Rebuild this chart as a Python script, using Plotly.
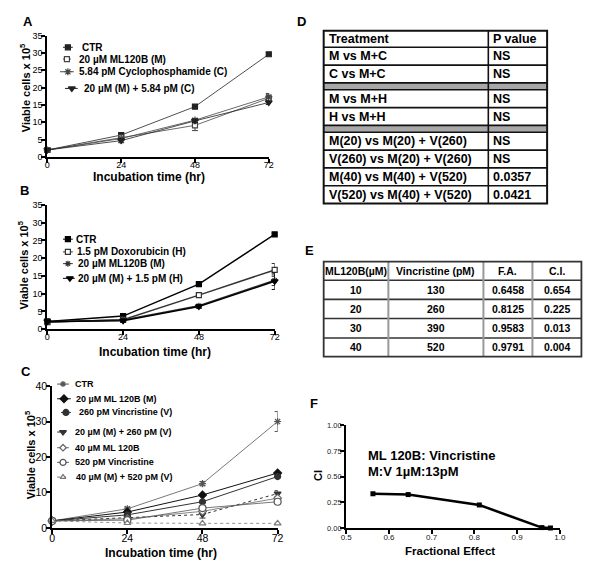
import plotly.graph_objects as go

FONT = "Liberation Sans, Arial, sans-serif"
W, H = 600, 572
OFF = 8  # page body margin: design in page pixels, shift into figure pixels

# ---------------- data ----------------
time = [0, 24, 48, 72]

# Panel A
A_names = ["CTR", "20 µM ML120B (M)", "5.84 pM Cyclophosphamide (C)", "20 µM (M) + 5.84 pM (C)"]
A_ctr = [2.0, 6.3, 14.5, 29.6]
A_m = [2.0, 5.6, 9.1, 16.9]
A_c = [2.0, 5.3, 10.6, 17.3]
A_mc = [2.0, 4.7, 10.4, 15.7]
A_ctr_err = [0.2, 0.4, 0.4, 0.4]
A_m_err = [0.2, 0.5, 1.5, 1.0]
A_c_err = [0.2, 0.4, 0.5, 1.0]
A_mc_err = [0.2, 0.6, 0.5, 0.6]

# Panel B
B_names = ["CTR", "1.5 pM Doxorubicin (H)", "20 µM ML120B (M)", "20 µM (M) + 1.5 pM (H)"]
B_ctr = [2.2, 3.7, 12.7, 26.7]
B_h = [2.0, 2.7, 9.6, 16.7]
B_m = [2.1, 2.6, 6.6, 13.8]
B_mh = [2.2, 2.4, 6.4, 13.5]
B_ctr_err = [0.2, 0.3, 0.4, 0.4]
B_h_err = [0.2, 0.4, 0.4, 1.8]
B_m_err = [0.2, 0.4, 0.4, 1.5]
B_mh_err = [0.2, 0.4, 0.5, 2.3]

# Panel C
C_names = ["CTR", "20 µM ML 120B (M)", "260 pM Vincristine (V)", "20 µM (M) + 260 pM (V)",
           "40 µM ML 120B", "520 pM Vincristine", "40 µM (M) + 520 pM (V)"]
C_ctr = [2.0, 5.4, 12.5, 30.0]
C_m = [2.0, 4.5, 9.3, 15.5]
C_v = [2.0, 3.7, 7.4, 14.5]
C_mv = [2.0, 3.0, 3.8, 9.7]
C_m40 = [2.0, 2.6, 4.7, 8.4]
C_v520 = [2.0, 2.2, 5.6, 7.4]
C_mv40 = [2.0, 1.4, 1.3, 1.3]
C_ctr_err = [0.2, 0.5, 0.6, 2.8]
C_mv_err = [0.2, 0.4, 1.0, 0.8]

# Panel D (table)
D_header = ["Treatment", "P value"]
D_treatment = ["M vs M+C", "C vs M+C", "", "M vs M+H", "H vs M+H", "",
               "M(20) vs M(20) + V(260)", "V(260) vs M(20) + V(260)",
               "M(40) vs M(40) + V(520)", "V(520) vs M(40) + V(520)"]
D_pvalue = ["NS", "NS", "", "NS", "NS", "", "NS", "NS", "0.0357", "0.0421"]

# Panel E (table)
E_header = ["ML120B(µM)", "Vincristine (pM)", "F.A.", "C.I."]
E_ml = ["10", "20", "30", "40"]
E_vin = ["130", "260", "390", "520"]
E_fa = ["0.6458", "0.8125", "0.9583", "0.9791"]
E_ci = ["0.654", "0.225", "0.013", "0.004"]

# Panel F
F_fa = [0.5625, 0.645, 0.8115, 0.958, 0.978]
F_ci = [0.333, 0.325, 0.224, 0.004, 0.0]

# ---------------- helpers ----------------
def xd(l, r):
    return [(l - OFF) / W, (r - OFF) / W]

def yd(top, bottom):
    return [1 - (bottom - OFF) / H, 1 - (top - OFF) / H]

fig = go.Figure()
anns = []
shapes = []

def axstyle(**kw):
    d = dict(showline=True, linewidth=2, linecolor="black", ticks="outside", ticklen=4,
             tickwidth=1.5, tickcolor="black", showgrid=False, zeroline=False,
             tickfont=dict(size=9, family=FONT, color="black"), fixedrange=True)
    d.update(kw)
    return d

def series(xa, ya, y, err, color, symbol, width=1, dash="solid", size=6, fill=True, lw=1.2):
    mk = dict(symbol=symbol, size=size, color=color if fill else "white",
              line=dict(color=color, width=lw))
    if symbol.startswith("asterisk"):
        mk = dict(symbol=symbol, size=size, color=color, line=dict(color=color, width=lw))
    kw = {}
    if err is not None:
        kw["error_y"] = dict(type="data", array=err, thickness=1, width=3, color=color)
    fig.add_trace(go.Scatter(
        x=time, y=y, mode="lines+markers", xaxis=xa, yaxis=ya, cliponaxis=False,
        line=dict(color=color, width=width, dash=dash), marker=mk, showlegend=False, **kw))

def text(x, y, s, size=9, xanchor="left", bold=True, angle=0, color="black"):
    anns.append(dict(x=x, y=y, xref="x5", yref="y5", text=s, showarrow=False,
                     xanchor=xanchor, yanchor="middle", textangle=angle,
                     font=dict(family=FONT, size=size, color=color,
                               weight="bold" if bold else "normal")))

def legend_item(x0, x1, xm, y, tx, label, color, symbol, fill=True, dash="solid", size=6, lw=1.2, fs=9):
    fig.add_trace(go.Scatter(x=[x0, x1], y=[y, y], mode="lines", xaxis="x5", yaxis="y5",
                             line=dict(color=color, width=1, dash=dash), showlegend=False,
                             hoverinfo="skip"))
    mk = dict(symbol=symbol, size=size, color=color if fill else "white",
              line=dict(color=color, width=lw))
    fig.add_trace(go.Scatter(x=[xm], y=[y], mode="markers", xaxis="x5", yaxis="y5",
                             marker=mk, showlegend=False, hoverinfo="skip"))
    text(tx, y, label, size=fs)

# ---------------- Panel A ----------------
series("x", "y", A_ctr, A_ctr_err, "#222", "square", width=0.8, size=5)
series("x", "y", A_m, A_m_err, "#444", "square", width=0.8, fill=False, size=5)
series("x", "y", A_c, A_c_err, "#444", "asterisk-open", width=0.8, size=6)
series("x", "y", A_mc, A_mc_err, "#222", "triangle-down", width=0.8, size=6)
legend_item(58, 68, 63, 42, 75, A_names[0], "#222", "square", size=5, fs=10)
legend_item(58, 66, 62, 54, 72, A_names[1], "#444", "square", fill=False, size=5, fs=10)
legend_item(55, 69, 63, 67, 72, A_names[2], "#444", "asterisk-open", size=6, fs=10)
legend_item(60, 73, 67, 84, 77, A_names[3], "#222", "triangle-down", fs=10)

# ---------------- Panel B ----------------
series("x2", "y2", B_ctr, B_ctr_err, "black", "square", width=1.5, size=5)
series("x2", "y2", B_h, B_h_err, "#333", "square", width=1.5, fill=False, size=5)
series("x2", "y2", B_m, B_m_err, "#333", "asterisk-open", width=1.5, size=5)
series("x2", "y2", B_mh, B_mh_err, "black", "triangle-down", width=1.5, size=6)
legend_item(58, 68, 63, 238, 69, B_names[0], "black", "square", size=5, fs=10)
legend_item(58, 68, 63, 251, 70, B_names[1], "#333", "square", fill=False, size=5, fs=10)
legend_item(58, 68, 63, 263, 71, B_names[2], "#333", "asterisk-open", size=5, fs=10)
legend_item(58, 70, 65, 278, 71, B_names[3], "black", "triangle-down", fs=10)

# ---------------- Panel C ----------------
series("x3", "y3", C_ctr, C_ctr_err, "#555", "asterisk-open", width=0.8, size=6)
series("x3", "y3", C_m, None, "#111", "diamond", width=1)
series("x3", "y3", C_v, None, "#333", "circle", width=1)
series("x3", "y3", C_mv, C_mv_err, "#333", "triangle-down", width=1, dash="dot")
series("x3", "y3", C_m40, None, "#666", "diamond", width=0.8, fill=False)
series("x3", "y3", C_v520, None, "#555", "circle", width=0.8, fill=False, size=7)
series("x3", "y3", C_mv40, None, "#777", "triangle-up", width=0.8, dash="dot", fill=False)
legend_item(52, 64, 58, 386, 68, C_names[0], "#555", "asterisk-open", size=5)
legend_item(52, 66, 59, 401, 69, C_names[1], "#111", "diamond")
legend_item(56, 66, 61, 415, 72, C_names[2], "#333", "circle")
legend_item(52, 64, 58, 435, 68, C_names[3], "#333", "triangle-down", dash="dot")
legend_item(52, 64, 58, 451, 68, C_names[4], "#666", "diamond", fill=False, size=5)
legend_item(52, 64, 58, 466, 68, C_names[5], "#555", "circle", fill=False)
legend_item(52, 64, 58, 481, 69, C_names[6], "#777", "triangle-up", fill=False, size=5, dash="dot")

# ---------------- Panel F ----------------
fig.add_trace(go.Scatter(x=F_fa, y=F_ci, mode="lines+markers", xaxis="x4", yaxis="y4",
                         cliponaxis=False, line=dict(color="black", width=2.5),
                         marker=dict(symbol="square", size=5, color="black"), showlegend=False))

# ---------------- Axes ----------------
time_ticks = dict(tickmode="array", tickvals=time, ticktext=[str(t) for t in time])
XS = -6
YS = -3
layout_axes = dict(
    xaxis=axstyle(domain=xd(42, 268), range=[0, 72], anchor="y", ticklabelstandoff=XS, **time_ticks),
    yaxis=axstyle(domain=yd(30, 154), range=[0, 35], anchor="x", dtick=5, tick0=0, ticklabelstandoff=YS),
    xaxis2=axstyle(domain=xd(42, 274), range=[0, 72], anchor="y2", ticklabelstandoff=XS, **time_ticks),
    yaxis2=axstyle(domain=yd(203, 330), range=[0, 35], anchor="x2", dtick=5, tick0=0, ticklabelstandoff=YS),
    xaxis3=axstyle(domain=xd(47, 277), range=[0, 72], anchor="y3", ticklabelstandoff=-5, **time_ticks,
                   tickfont=dict(size=10.5, family=FONT, color="black")),
    yaxis3=axstyle(domain=yd(388, 533), range=[0, 40], anchor="x3", dtick=10, tick0=0, ticklabelstandoff=YS,
                   tickfont=dict(size=10.5, family=FONT, color="black")),
    xaxis4=axstyle(domain=xd(347, 565), range=[0.5, 1.0], anchor="y4", dtick=0.1, tick0=0.5,
                   ticklabelstandoff=-4, tickformat=".1f", tickfont=dict(size=8, family=FONT, color="#222")),
    yaxis4=axstyle(domain=yd(428, 533), range=[0, 1.0], anchor="x4", dtick=0.25, tick0=0,
                   ticklabelstandoff=YS, tickformat=".2f", tickfont=dict(size=7.5, family=FONT, color="#222")),
    xaxis5=dict(domain=[0, 1], range=[OFF, W + OFF], visible=False, anchor="y5", fixedrange=True),
    yaxis5=dict(domain=[0, 1], range=[H + OFF, OFF], visible=False, anchor="x5", fixedrange=True),
)

# axis titles
xt = "Incubation time (hr)"
yt = "Viable cells x 10<sup>5</sup>"
text(146, 174.5, xt, size=12, xanchor="center")
text(152, 353, xt, size=12, xanchor="center")
text(158, 559, xt, size=12, xanchor="center")
text(20, 83, yt, size=11, xanchor="center", angle=-90)
text(17, 264, yt, size=11, xanchor="center", angle=-90)
text(24, 458, yt, size=11, xanchor="center", angle=-90)
text(453, 557, "Fractional Effect", size=11.5, xanchor="center")
text(318, 479, "CI", size=11, xanchor="center", angle=-90)
text(367, 459, "ML 120B: Vincristine", size=13)
text(367, 475, "M:V 1µM:13pM", size=13)

# panel labels
for lab, x, y in [("A", 22, 16), ("B", 19, 188), ("C", 20, 373), ("D", 301, 16), ("E", 310, 250), ("F", 314, 406)]:
    text(x, y, lab, size=13, xanchor="center")

# ---------------- Table D ----------------
dl, dm, dr = 324, 492, 552
rows_y = [25, 42]
for t in D_treatment:
    rows_y.append(rows_y[-1] + (7 if t == "" else 18.2))
for i, t in enumerate(D_treatment):
    if t == "":
        shapes.append(dict(type="rect", xref="x5", yref="y5", x0=dl, x1=dr, y0=rows_y[i + 1], y1=rows_y[i + 2],
                           fillcolor="#a8a8a8", line=dict(width=0), layer="below"))
text(dl + 3, (rows_y[0] + rows_y[1]) / 2, D_header[0], size=12.5)
text(dm + 3, (rows_y[0] + rows_y[1]) / 2, D_header[1], size=12.5)
for i, (t, p) in enumerate(zip(D_treatment, D_pvalue)):
    yc = (rows_y[i + 1] + rows_y[i + 2]) / 2
    if t:
        text(dl + 3, yc, t, size=12.5)
        text(dm + 3, yc, p, size=12.5)
for yy in rows_y[1:-1]:
    shapes.append(dict(type="line", xref="x5", yref="y5", x0=dl, x1=dr, y0=yy, y1=yy,
                       line=dict(color="#111", width=1.6)))
shapes.append(dict(type="line", xref="x5", yref="y5", x0=dm, x1=dm, y0=rows_y[0], y1=rows_y[-1],
                   line=dict(color="#111", width=1.6)))
shapes.append(dict(type="rect", xref="x5", yref="y5", x0=dl, x1=dr, y0=rows_y[0], y1=rows_y[-1],
                   line=dict(color="#111", width=2)))

# ---------------- Table E ----------------
ecols = [324, 390, 487, 537, 587]
erows = [261, 280, 299.5, 319, 339, 358]
for yy in erows[1:-1]:
    shapes.append(dict(type="line", xref="x5", yref="y5", x0=ecols[0], x1=ecols[-1], y0=yy, y1=yy,
                       line=dict(color="#333", width=1.6)))
for xx in ecols[1:-1]:
    shapes.append(dict(type="line", xref="x5", yref="y5", x0=xx, x1=xx, y0=erows[0], y1=erows[-1],
                       line=dict(color="#999", width=2)))
shapes.append(dict(type="rect", xref="x5", yref="y5", x0=ecols[0], x1=ecols[-1], y0=erows[0], y1=erows[-1],
                   line=dict(color="#333", width=1.8)))
for j, h in enumerate(E_header):
    text((ecols[j] + ecols[j + 1]) / 2, (erows[0] + erows[1]) / 2, h, size=10.5, xanchor="center")
for i, row in enumerate(zip(E_ml, E_vin, E_fa, E_ci)):
    for j, v in enumerate(row):
        text((ecols[j] + ecols[j + 1]) / 2, (erows[i + 1] + erows[i + 2]) / 2, v, size=10.5, xanchor="center")

fig.update_layout(
    width=W, height=H, margin=dict(l=0, r=0, t=0, b=0),
    paper_bgcolor="white", plot_bgcolor="rgba(0,0,0,0)",
    annotations=anns, shapes=shapes, showlegend=False,
    font=dict(family=FONT, color="black"),
    **layout_axes,
)

fig.write_html("out.html")
